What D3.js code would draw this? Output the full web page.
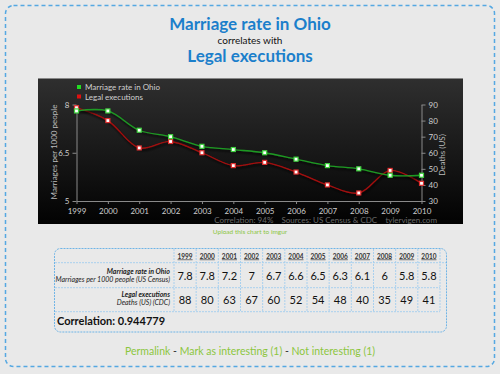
<!DOCTYPE html>
<html>
<head>
<meta charset="utf-8">
<script src="https://cdn.jsdelivr.net/npm/d3@7"></script>
<style>
  body { margin: 0; background: #e9e9e9; }
  svg { display: block; font-family: Lato, "DejaVu Sans", sans-serif; }
</style>
</head>
<body>
<div id="chart"></div>
<script>
// datos
const years = [1999, 2000, 2001, 2002, 2003, 2004, 2005, 2006, 2007, 2008, 2009, 2010];
const marriage = [7.8, 7.8, 7.2, 7, 6.7, 6.6, 6.5, 6.3, 6.1, 6, 5.8, 5.8];
const executions = [88, 80, 63, 67, 60, 52, 54, 48, 40, 35, 49, 41];
const leftTicks = [5, 6.5, 8];
const rightTicks = [30, 40, 50, 60, 70, 80, 90];
const correlation = "0.944779";

const green = "#1f9a24", red = "#a3100f", blue = "#1b7fcb", lime = "#8cc63e";

const svg = d3.select("#chart").append("svg")
    .attr("width", 500)
    .attr("height", 374);

const defs = svg.append("defs");
const grad = defs.append("linearGradient").attr("id", "bg").attr("x1", 0).attr("y1", 0).attr("x2", 0).attr("y2", 1);
grad.append("stop").attr("offset", "0%").attr("stop-color", "#2f2f2f");
grad.append("stop").attr("offset", "100%").attr("stop-color", "#020202");
const sh = defs.append("filter").attr("id", "shadow").attr("x", "-10%").attr("y", "-20%").attr("width", "120%").attr("height", "160%");
sh.append("feDropShadow").attr("dx", 1).attr("dy", 2).attr("stdDeviation", 1.2).attr("flood-color", "#000").attr("flood-opacity", 0.9);

// marco exterior punteado
svg.append("rect")
    .attr("x", 5.5).attr("y", 5.5).attr("width", 489).attr("height", 361)
    .attr("rx", 8)
    .attr("fill", "#e9e9e9")
    .attr("stroke", "#55a8e2").attr("stroke-width", 1.5)
    .attr("stroke-dasharray", "4,3");

// títulos
svg.append("text").attr("x", 250).attr("y", 30).attr("text-anchor", "middle")
    .style("font-size", "17px").style("font-weight", "bold").attr("fill", blue)
    .text("Marriage rate in Ohio");
svg.append("text").attr("x", 250).attr("y", 44).attr("text-anchor", "middle")
    .style("font-size", "10px").attr("fill", "#111")
    .text("correlates with");
svg.append("text").attr("x", 250).attr("y", 62).attr("text-anchor", "middle")
    .style("font-size", "17px").style("font-weight", "bold").attr("fill", blue)
    .text("Legal executions");

// caja negra del gráfico
svg.append("rect").attr("x", 38).attr("y", 78).attr("width", 425).attr("height", 146).attr("fill", "url(#bg)");
svg.append("line").attr("x1", 38).attr("x2", 463).attr("y1", 78.5).attr("y2", 78.5).attr("stroke", "#888");

const x = d3.scalePoint().domain(years).range([76.5, 421.5]);
const yL = d3.scaleLinear().domain([5, 8]).range([201, 104.5]);
const yR = d3.scaleLinear().domain([30, 90]).range([201, 104.5]);

function styleAxis(g) {
    g.selectAll("path, line").attr("stroke", "#8a8a8a");
    g.selectAll("text").attr("fill", "#cfcfcf").style("font-size", "8px").style("font-family", "Lato, sans-serif");
}

svg.append("g").attr("transform", "translate(0,201)")
    .call(d3.axisBottom(x).tickSize(3).tickSizeOuter(0))
    .call(styleAxis)
    .call(g => g.selectAll("text").attr("dy", "0.9em"));

svg.append("g").attr("transform", "translate(76.5,0)")
    .call(d3.axisLeft(yL).tickValues(leftTicks).tickFormat(d3.format("~g")).tickSize(4).tickSizeOuter(0))
    .call(styleAxis);

svg.append("g").attr("transform", "translate(421.5,0)")
    .call(d3.axisRight(yR).tickValues(rightTicks).tickSize(4).tickSizeOuter(0))
    .call(styleAxis);

// etiquetas de ejes
svg.append("text").attr("transform", "translate(57,152) rotate(-90)").attr("text-anchor", "middle")
    .style("font-size", "8px").attr("fill", "#bbb").text("Marriages per 1000 people");
svg.append("text").attr("transform", "translate(445,155) rotate(-90)").attr("text-anchor", "middle")
    .style("font-size", "8px").attr("fill", "#bbb").text("Deaths (US)");

// líneas
const lineM = d3.line().x((d, i) => x(years[i])).y(d => yL(d)).curve(d3.curveCatmullRom.alpha(0.5));
const lineE = d3.line().x((d, i) => x(years[i])).y(d => yR(d)).curve(d3.curveCatmullRom.alpha(0.5));

svg.append("path").datum(executions).attr("d", lineE).attr("fill", "none")
    .attr("stroke", red).attr("stroke-width", 1.3).attr("filter", "url(#shadow)");
svg.append("path").datum(marriage).attr("d", lineM).attr("fill", "none")
    .attr("stroke", green).attr("stroke-width", 1.3).attr("filter", "url(#shadow)");

function markers(data, yScale, color) {
    svg.append("g").selectAll("rect").data(data).enter().append("rect")
        .attr("x", (d, i) => x(years[i]) - 2)
        .attr("y", d => yScale(d) - 2)
        .attr("width", 4).attr("height", 4)
        .attr("fill", "#fff")
        .attr("stroke", color).attr("stroke-width", 1.2);
}
markers(executions, yR, "#e03030");
markers(marriage, yL, "#3fd23f");

// leyenda
const legend = [["Marriage rate in Ohio", "#22dd22"], ["Legal executions", "#e01010"]];
legend.forEach((l, i) => {
    svg.append("rect").attr("x", 77).attr("y", 85 + i * 9.5).attr("width", 4).attr("height", 4).attr("fill", l[1]);
    svg.append("text").attr("x", 85).attr("y", 90 + i * 9.5).style("font-size", "8px").attr("fill", "#d0d0d0").text(l[0]);
});

// pie del gráfico
svg.append("text").attr("x", 437).attr("y", 223).attr("text-anchor", "end")
    .style("font-size", "8px").attr("fill", "#6a6a6a").attr("xml:space", "preserve")
    .text("Correlation: 94%    Sources: US Census & CDC    tylervigen.com");
svg.append("text").attr("x", 250).attr("y", 234).attr("text-anchor", "middle")
    .style("font-size", "6.5px").attr("fill", lime).text("Upload this chart to imgur");

// tabla
const t = svg.append("g");
const colL = 174, colW = (440 - 174) / 12;
const rowY = [248, 262.7, 287.7, 311.7, 332];
t.append("rect").attr("x", 54.5).attr("y", 248.5).attr("width", 392).attr("height", 83.5).attr("rx", 6)
    .attr("fill", "none").attr("stroke", "#6fb4e6").attr("stroke-width", 1).attr("stroke-dasharray", "2,1");
const grid = "#a9d0ee";
[rowY[1]].forEach(y => t.append("line").attr("x1", 55).attr("x2", 446).attr("y1", y).attr("y2", y)
    .attr("stroke", grid).attr("stroke-dasharray", "2,1"));
[rowY[2], rowY[3]].forEach(y => t.append("line").attr("x1", 55).attr("x2", 440).attr("y1", y).attr("y2", y)
    .attr("stroke", grid).attr("stroke-dasharray", "2,1"));
d3.range(13).forEach(i => {
    const xx = colL + i * colW;
    t.append("line").attr("x1", xx).attr("x2", xx).attr("y1", 249).attr("y2", rowY[3])
        .attr("stroke", grid).attr("stroke-dasharray", "2,1");
});
t.selectAll(".yr").data(years).enter().append("text")
    .attr("x", (d, i) => colL + (i + 0.5) * colW).attr("y", 258.5).attr("text-anchor", "middle")
    .style("font-size", "6.5px").style("font-weight", "bold").style("text-decoration", "underline")
    .attr("fill", "#333").text(d => d);
t.selectAll(".vm").data(marriage).enter().append("text")
    .attr("x", (d, i) => colL + (i + 0.5) * colW).attr("y", 279.5).attr("text-anchor", "middle")
    .style("font-size", "11px").attr("fill", "#111").text(d => d);
t.selectAll(".ve").data(executions).enter().append("text")
    .attr("x", (d, i) => colL + (i + 0.5) * colW).attr("y", 303.5).attr("text-anchor", "middle")
    .style("font-size", "11px").attr("fill", "#111").text(d => d);

const labels = [
    ["Marriage rate in Ohio", 273.5, true], ["Marriages per 1000 people (US Census)", 281.5, false],
    ["Legal executions", 297, true], ["Deaths (US) (CDC)", 305, false]
];
labels.forEach(l => {
    t.append("text").attr("x", 170).attr("y", l[1]).attr("text-anchor", "end")
        .style("font-size", "7px").style("font-style", "italic").style("font-weight", l[2] ? "bold" : "normal")
        .attr("fill", "#222").text(l[0]);
});
t.append("text").attr("x", 57).attr("y", 325).style("font-size", "11px").style("font-weight", "bold")
    .attr("fill", "#111").text("Correlation: " + correlation);

// enlaces inferiores
const links = svg.append("text").attr("x", 250).attr("y", 355).attr("text-anchor", "middle").style("font-size", "10.5px");
links.append("tspan").attr("fill", lime).text("Permalink");
links.append("tspan").attr("fill", "#333").text(" - ");
links.append("tspan").attr("fill", lime).text("Mark as interesting (1)");
links.append("tspan").attr("fill", "#333").text(" - ");
links.append("tspan").attr("fill", lime).text("Not interesting (1)");
</script>
</body>
</html>
